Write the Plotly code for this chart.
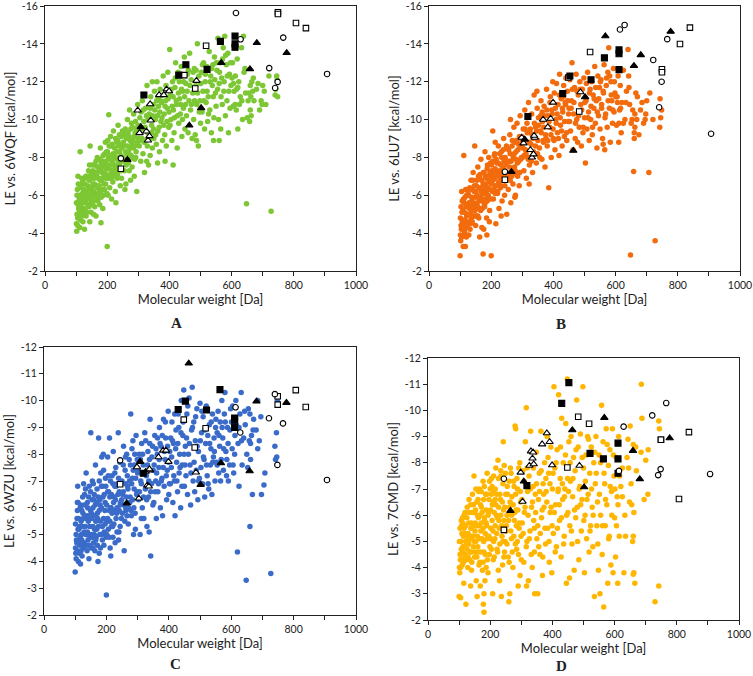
import plotly.graph_objects as go

# ---------------- data: colored compound clouds (MW [Da], LE [kcal/mol]) ----------------
A_points = [
(102,-4.1),(105,-4.8),(108,-5.3),(110,-5.8),(104,-6.3),(106,-7.0),(112,-4.3),(115,-5.0),(118,-5.6),(120,-6.1),
(113,-8.3),(122,-4.6),(125,-5.3),(128,-6.6),(130,-5.9),(132,-4.9),(135,-6.2),(138,-5.5),(140,-7.3),(142,-6.8),
(145,-8.6),(147,-5.8),(150,-6.4),(148,-5.1),(127,-4.2),(118,-6.9),(136,-7.0),(144,-4.6),
(152,-7.6),(155,-6.0),(158,-6.9),(160,-5.4),(162,-7.2),(165,-6.5),(168,-8.0),(170,-5.7),(172,-7.5),(175,-6.2),
(178,-8.5),(180,-4.55),(182,-6.8),(185,-7.8),(188,-6.0),(190,-7.1),(192,-8.2),(195,-6.6),(198,-7.4),(200,-3.3),
(156,-5.0),(164,-4.9),(176,-5.5),(186,-5.3),(194,-8.8),(199,-6.1),(173,-6.9),(183,-7.2),
(202,-8.9),(205,-10.25),(205,-7.0),(208,-6.4),(210,-7.9),(212,-8.6),(215,-7.3),(218,-6.7),(220,-9.4),(222,-8.1),
(225,-7.6),(228,-5.6),(230,-8.8),(232,-6.9),(235,-9.7),(238,-7.5),(240,-8.3),(242,-6.5),(245,-9.1),(248,-7.9),
(214,-5.8),(226,-6.2),(236,-8.6),(246,-6.9),(203,-6.0),(219,-8.2),(233,-7.1),
(252,-8.8),(255,-7.3),(258,-9.5),(260,-6.6),(263,-8.2),(265,-10.0),(268,-7.7),(270,-9.1),(273,-8.5),(275,-6.8),
(278,-9.8),(280,-7.5),(283,-8.9),(285,-10.3),(288,-7.9),(290,-9.3),(293,-8.3),(295,-6.2),(298,-10.8),(300,-9.0),
(257,-6.3),(272,-10.5),(287,-7.0),
(303,-8.6),(305,-10.1),(308,-7.8),(310,-9.5),(313,-11.0),(315,-8.2),(318,-9.9),(320,-7.2),(323,-10.6),(325,-8.9),
(328,-11.8),(330,-9.3),(333,-7.6),(335,-10.3),(338,-8.1),(340,-11.2),(343,-9.7),(345,-8.5),(348,-10.8),(350,-9.0),
(327,-7.8),(345,-12.0),
(352,-11.5),(355,-10.0),(358,-8.7),(360,-12.0),(363,-9.4),(365,-10.7),(368,-8.3),(370,-11.6),(373,-9.9),(375,-10.9),
(378,-8.9),(380,-12.3),(383,-10.3),(385,-9.2),(388,-11.0),(390,-8.6),(393,-10.6),(395,-12.5),(398,-9.6),(401,-13.7),
(362,-7.7),(386,-7.8),
(403,-11.3),(405,-10.0),(408,-8.9),(410,-12.0),(413,-10.5),(415,-9.3),(418,-11.7),(420,-13.0),(423,-10.8),(425,-8.5),
(428,-12.5),(430,-9.8),(433,-11.1),(435,-10.3),(438,-12.8),(440,-9.1),(443,-11.5),(445,-10.6),(448,-13.3),(450,-9.5),
(412,-7.6),
(453,-11.9),(455,-10.2),(458,-12.4),(460,-9.3),(463,-11.0),(465,-13.5),(468,-10.5),(470,-12.1),(473,-9.0),(475,-11.4),
(478,-10.0),(480,-12.7),(483,-9.2),(485,-11.8),(488,-10.8),(490,-14.0),(493,-8.6),(495,-12.3),(498,-11.0),(500,-9.8),
(487,-8.9),
(503,-12.5),(505,-10.4),(508,-11.5),(510,-13.0),(513,-9.5),(515,-12.0),(518,-10.9),(520,-12.8),(523,-9.9),(525,-11.2),
(528,-13.6),(530,-10.5),(533,-12.3),(535,-9.3),(538,-11.8),(540,-12.9),(543,-10.1),(545,-13.3),(548,-11.4),(550,-10.7),
(542,-8.9),
(553,-12.6),(556,-14.3),(558,-10.0),(560,-11.9),(563,-13.0),(565,-9.5),(568,-12.2),(570,-10.8),(573,-13.8),(575,-11.5),
(578,-14.4),(580,-10.2),(583,-12.9),(585,-11.0),(588,-13.5),(590,-9.3),(593,-12.4),(595,-10.6),(598,-11.8),(560,-8.9),
(603,-13.0),(605,-10.7),(608,-11.5),(612,-12.3),(615,-10.5),(618,-13.2),(620,-9.5),(623,-12.0),(628,-11.2),(632,-13.8),
(635,-10.0),(638,-14.4),(640,-12.5),(645,-11.4),(648,-5.55),(650,-10.1),(620,-11.7),
(655,-11.4),(658,-9.9),(660,-11.8),(663,-10.2),(665,-12.0),(668,-11.5),(672,-11.0),(680,-11.6),(690,-10.5),(700,-11.8),
(705,-11.5),(710,-10.8),(720,-12.3),(727,-5.15),(740,-11.3),(745,-12.3),(748,-11.2),(742,-11.6),(746,-12.1),(698,-10.8),
]
A_core = [
(101,-4.5),(101,-5.6),(103,-5.0),(103,-6.0),(105,-4.4),(107,-5.5),(107,-6.6),(109,-4.9),(109,-6.0),(111,-5.2),
(111,-6.4),(114,-4.7),(114,-5.9),(116,-5.4),(116,-6.5),(119,-4.9),(119,-6.0),(121,-5.6),(121,-6.7),(123,-5.1),
(124,-6.3),(126,-5.7),(126,-6.9),(129,-5.2),(129,-6.2),(131,-5.6),(131,-7.0),(133,-6.0),(134,-5.1),(137,-6.5),
(137,-5.8),(139,-6.9),(139,-6.1),(141,-5.4),(141,-6.3),(143,-7.6),(146,-6.0),(146,-6.9),(149,-5.6),(149,-7.1),
(151,-6.2),(151,-6.9),(153,-5.5),(154,-6.6),(154,-7.3),(157,-6.2),(157,-5.7),(159,-6.6),(159,-7.6),(161,-6.0),
(161,-7.0),(163,-6.5),(164,-7.8),(166,-5.9),(166,-7.1),(169,-6.4),(169,-7.5),(171,-6.9),(171,-6.1),(174,-7.3),
(174,-6.5),(177,-6.8),(177,-7.9),(179,-6.2),(179,-7.3),(181,-7.7),(181,-5.9),(184,-6.9),(184,-6.3),(187,-7.5),
(187,-8.1),(189,-6.6),(191,-7.7),(191,-6.3),(193,-7.2),(196,-7.8),(196,-6.9),(198,-8.3),(199,-7.0),
(201,-7.6),(201,-8.3),(204,-6.9),(204,-8.0),(206,-7.4),(206,-8.6),(209,-7.1),(209,-8.1),(211,-7.6),(211,-9.1),
(213,-6.9),(213,-8.0),(216,-7.7),(216,-8.7),(218,-7.2),(221,-7.9),(221,-7.0),(223,-8.5),(224,-7.4),(227,-8.0),
(227,-9.0),(229,-7.5),(231,-8.3),(231,-7.2),(234,-8.0),(234,-8.9),(237,-7.8),(239,-9.2),(241,-7.7),(241,-8.7),
(244,-8.1),(244,-7.3),(247,-8.5),(249,-9.4),(251,-8.0),(254,-8.6),(254,-7.8),(256,-9.2),(259,-8.3),(261,-7.6),
(261,-9.0),(264,-8.6),(266,-7.9),(267,-9.3),(269,-8.3),(271,-7.3),(274,-8.9),(276,-9.5),(277,-8.1),(279,-8.7),
(281,-9.6),(282,-8.0),(284,-8.5),(286,-9.1),(289,-8.6),(291,-9.9),(292,-8.0),(294,-9.5),(297,-8.8),(299,-9.7),
(302,-9.3),(306,-8.9),(309,-10.4),(312,-9.0),(316,-10.5),(319,-8.8),(322,-9.6),(326,-10.2),(329,-8.6),(332,-10.0),
(336,-9.0),(339,-10.6),(342,-9.3),(346,-10.2),(349,-9.5),(353,-10.5),(356,-9.2),(359,-11.0),(361,-10.2),(364,-11.2),
(367,-9.6),(369,-10.4),(372,-11.0),(376,-10.1),(379,-11.3),(382,-9.7),(386,-10.7),(389,-11.8),(392,-9.9),(396,-11.1),
(399,-10.4),(402,-9.7),(406,-11.6),(409,-10.7),(412,-11.2),(416,-10.1),(419,-12.2),(422,-11.0),(426,-10.2),(429,-11.4),
(432,-12.0),(436,-10.8),(439,-11.6),(442,-10.0),(446,-12.0),(449,-11.2),
(452,-10.8),(457,-11.5),(461,-12.6),(466,-11.8),(471,-10.8),(476,-12.5),(481,-11.0),(486,-12.6),(491,-11.4),(496,-10.4),
(501,-11.9),(506,-12.9),(511,-11.0),(516,-12.4),(521,-11.5),(526,-10.3),(531,-12.0),(536,-12.7),(541,-11.2),(546,-12.1),
(551,-13.0),(555,-11.6),(561,-12.5),(566,-11.2),(571,-13.2),(576,-12.0),(581,-13.4),(586,-12.3),(591,-11.5),(596,-13.0),
(601,-12.2),(606,-11.9),(611,-10.8),(616,-11.6),
(625,-10.8),(633,-11.0),(643,-12.7),(653,-11.0),(662,-11.2),(670,-12.2),(685,-11.9),(695,-11.0),(660,-10.5),
]

B_points = [
(100,-2.8),(102,-3.6),(104,-4.2),(106,-5.1),(108,-4.7),(110,-3.3),(112,-8.1),(113,-5.6),(115,-4.0),(118,-6.3),
(120,-3.8),(122,-5.0),(125,-4.5),(127,-6.0),(130,-5.3),(132,-4.2),(135,-6.8),(138,-5.7),(140,-4.9),(142,-7.2),
(145,-6.2),(147,-8.6),(148,-5.2),(150,-4.4),(105,-6.2),(117,-3.3),(128,-3.9),(136,-4.8),(143,-5.5),
(152,-6.5),(155,-5.6),(157,-7.5),(160,-4.8),(162,-6.9),(165,-5.9),(167,-7.9),(170,-4.3),(172,-6.3),(174,-2.9),
(175,-7.2),(178,-5.5),(180,-8.3),(182,-6.6),(185,-4.8),(188,-7.6),(190,-6.0),(192,-8.0),(195,-5.2),(198,-6.9),
(200,-2.8),(163,-3.8),(176,-4.2),(186,-3.9),(194,-4.6),(168,-6.2),(183,-5.8),
(202,-7.3),(205,-9.4),(207,-5.8),(210,-8.1),(212,-6.5),(215,-4.5),(218,-7.7),(220,-6.1),(223,-8.6),(225,-5.3),
(228,-7.0),(230,-6.4),(233,-8.3),(235,-5.7),(238,-7.4),(240,-9.0),(243,-6.0),(245,-8.0),(248,-6.8),(250,-5.0),
(213,-8.8),(232,-4.9),(246,-7.1),
(252,-8.5),(255,-6.3),(258,-7.8),(260,-9.2),(263,-5.6),(265,-7.2),(268,-8.9),(270,-6.6),(273,-9.6),(275,-7.5),
(278,-6.0),(280,-8.3),(283,-9.8),(285,-7.0),(288,-8.7),(290,-6.5),(293,-10.2),(295,-7.9),(298,-9.1),(300,-8.0),
(262,-10.0),(276,-5.9),
(303,-9.5),(305,-7.3),(308,-10.5),(310,-8.4),(313,-6.9),(315,-9.8),(318,-8.0),(320,-10.9),(323,-7.6),(325,-9.3),
(328,-8.7),(330,-10.3),(333,-7.2),(335,-9.0),(338,-11.3),(340,-8.2),(343,-9.6),(345,-7.7),(348,-10.6),(350,-8.9),
(322,-6.6),(347,-11.5),
(352,-10.1),(355,-8.5),(358,-9.4),(360,-11.0),(363,-7.9),(365,-9.9),(368,-8.8),(370,-10.7),(373,-7.5),(375,-9.2),
(378,-11.6),(380,-8.6),(383,-10.2),(385,-6.4),(388,-9.6),(390,-11.2),(393,-8.0),(395,-10.5),(398,-12.0),(400,-9.0),
(403,-11.4),(405,-8.4),(408,-10.0),(410,-11.9),(413,-9.3),(415,-10.8),(418,-8.1),(420,-12.4),(423,-9.7),(425,-11.1),
(428,-8.6),(430,-10.4),(433,-11.8),(435,-9.1),(438,-10.9),(440,-12.2),(443,-8.9),(445,-11.5),(448,-9.9),(450,-10.6),
(453,-12.1),(455,-9.4),(458,-11.0),(460,-13.0),(463,-8.4),(465,-10.3),(468,-11.7),(470,-9.0),(473,-12.4),(475,-10.0),
(478,-8.8),(480,-11.3),(483,-9.6),(485,-12.0),(488,-10.8),(490,-8.6),(493,-11.6),(495,-9.3),(498,-12.2),(500,-10.1),
(503,-7.7),(505,-11.0),(508,-9.5),(510,-12.5),(513,-10.4),(515,-8.9),(518,-11.6),(520,-10.0),(523,-12.0),(525,-9.2),
(528,-11.3),(530,-10.6),(533,-12.8),(535,-9.8),(538,-11.0),(540,-8.5),(543,-12.3),(545,-10.2),(548,-11.7),(550,-9.5),
(553,-12.1),(555,-10.8),(558,-9.0),(560,-11.5),(563,-12.9),(565,-8.4),(568,-10.3),(570,-11.8),(573,-9.6),(575,-12.5),
(578,-13.8),(580,-10.6),(583,-8.8),(585,-12.0),(588,-11.0),(590,-9.8),(593,-12.7),(595,-10.4),(598,-11.4),(560,-8.7),
(603,-9.7),(605,-11.2),(608,-12.3),(610,-8.8),(613,-10.5),(615,-11.8),(618,-9.3),(620,-10.9),(625,-12.6),(630,-10.0),
(635,-11.5),(640,-13.7),(642,-12.3),(645,-10.8),(648,-2.85),(650,-9.8),
(655,-10.5),(658,-7.25),(660,-9.3),(662,-9.6),(665,-11.4),(668,-10.0),(675,-9.2),(680,-10.5),(690,-9.8),(697,-10.3),
(700,-11.0),(707,-7.2),(710,-11.4),(720,-10.0),(727,-3.6),(742,-9.6),(745,-10.1),(743,-11.1),(748,-10.5),
]
B_core = [
(101,-3.9),(101,-4.8),(103,-4.4),(103,-5.4),(105,-3.8),(107,-4.6),(107,-5.7),(109,-4.2),(109,-5.2),(111,-4.5),
(111,-5.8),(114,-4.1),(114,-5.1),(116,-4.7),(116,-5.9),(119,-4.3),(119,-5.4),(121,-4.9),(121,-6.0),(123,-4.4),
(124,-5.5),(126,-5.0),(126,-6.2),(129,-4.6),(129,-5.6),(131,-5.0),(131,-6.4),(133,-5.4),(134,-4.5),(137,-5.9),
(137,-5.2),(139,-6.3),(139,-4.6),(141,-5.6),(141,-6.8),(143,-4.9),(146,-5.4),(146,-6.5),(149,-5.9),(149,-4.9),
(151,-5.5),(151,-6.2),(153,-4.9),(154,-6.0),(154,-6.8),(157,-5.4),(157,-4.9),(159,-5.9),(159,-7.0),(161,-5.3),
(161,-6.4),(163,-5.8),(164,-7.1),(166,-5.2),(166,-6.4),(169,-5.7),(169,-6.8),(171,-6.1),(171,-5.3),(174,-6.6),
(174,-5.8),(177,-6.1),(177,-7.2),(179,-5.4),(179,-6.5),(181,-7.0),(181,-5.6),(184,-6.2),(184,-6.9),(187,-5.7),
(187,-7.4),(189,-6.4),(191,-7.0),(191,-5.9),(193,-6.7),(196,-7.2),(196,-6.3),(198,-7.7),(199,-5.8),
(201,-6.6),(201,-7.6),(204,-6.2),(204,-7.1),(206,-6.8),(206,-7.8),(209,-6.3),(209,-7.3),(211,-6.9),(211,-8.2),
(213,-6.1),(213,-7.4),(216,-7.0),(216,-7.9),(218,-6.5),(221,-7.2),(221,-6.2),(223,-7.7),(224,-6.7),(227,-7.3),
(227,-8.2),(229,-6.8),(231,-7.6),(231,-6.5),(234,-7.2),(234,-8.0),(237,-7.0),(239,-8.4),(241,-6.9),(241,-7.8),
(244,-7.3),(244,-6.5),(247,-7.6),(249,-8.6),(251,-7.2),(254,-7.8),(254,-7.0),(256,-8.4),(259,-7.5),(261,-6.8),
(261,-8.2),(264,-7.8),(266,-7.0),(267,-8.6),(269,-7.4),(271,-8.0),(274,-8.2),(276,-8.8),(277,-7.3),(279,-7.9),
(281,-8.9),(282,-7.1),(284,-7.7),(286,-8.4),(289,-7.8),(291,-9.1),(292,-7.2),(294,-8.6),(297,-8.0),(299,-8.9),
(302,-8.5),(306,-8.1),(309,-9.5),(312,-8.2),(316,-9.3),(319,-7.9),(322,-8.8),(326,-9.5),(329,-7.8),(332,-9.2),
(336,-8.3),(339,-9.8),(342,-8.6),(346,-9.4),(349,-8.2),(353,-9.7),(356,-8.0),(359,-10.2),(361,-9.3),(364,-10.4),
(367,-8.9),(369,-9.6),(372,-10.2),(376,-9.0),(379,-10.5),(382,-8.9),(386,-9.9),(389,-10.9),(392,-9.2),(396,-10.3),
(399,-9.5),(402,-8.9),(406,-10.6),(409,-9.8),(412,-10.3),(416,-9.0),(419,-11.3),(422,-10.1),(426,-9.4),(429,-10.6),
(432,-11.2),(436,-9.9),(439,-10.8),(442,-9.3),(446,-11.0),(449,-10.3),
(452,-9.9),(457,-10.6),(461,-11.6),(466,-10.9),(471,-9.8),(476,-11.5),(481,-10.2),(486,-11.6),(491,-10.5),(496,-9.6),
(501,-10.9),(506,-11.9),(511,-10.1),(516,-11.4),(521,-10.7),(526,-9.6),(531,-11.1),(536,-11.7),(541,-10.4),(546,-11.1),
(551,-12.0),(555,-10.6),(561,-11.4),(566,-10.1),(571,-12.2),(576,-11.0),(581,-12.3),(586,-11.3),(591,-10.5),(596,-12.0),
(601,-11.2),(606,-10.9),(611,-9.8),(616,-10.6),
(625,-9.8),(633,-10.9),(643,-11.7),(653,-10.0),(662,-10.3),(670,-11.2),(685,-10.9),(695,-10.0),(660,-9.0),
]

C_points = [
(100,-3.6),(102,-4.3),(104,-4.8),(106,-5.6),(108,-6.8),(110,-4.0),(112,-5.2),(115,-4.6),(118,-6.1),(120,-5.0),
(122,-4.2),(125,-5.8),(128,-4.7),(130,-6.5),(132,-5.3),(135,-7.3),(138,-4.4),(140,-6.0),(142,-5.5),(145,-6.8),
(148,-4.9),(150,-8.8),(107,-6.2),(117,-3.9),(127,-6.9),(137,-5.0),(144,-4.1),
(152,-5.8),(155,-7.0),(157,-4.5),(160,-6.3),(162,-5.2),(165,-7.6),(167,-4.9),(170,-6.7),(172,-5.6),(175,-8.6),
(177,-4.3),(180,-6.1),(182,-7.3),(185,-5.0),(187,-6.8),(190,-8.0),(192,-4.6),(195,-5.9),(197,-7.1),(200,-2.75),
(158,-6.9),(173,-4.0),(185,-7.9),(193,-6.5),(163,-5.7),
(202,-5.5),(204,-7.9),(207,-6.6),(210,-8.6),(212,-4.5),(215,-6.0),(218,-7.2),(220,-5.3),(222,-8.1),(225,-6.4),
(228,-4.7),(230,-7.5),(233,-5.8),(235,-6.9),(238,-8.8),(240,-5.1),(243,-7.7),(245,-6.2),(248,-5.6),(250,-7.0),
(214,-4.2),(227,-6.8),(239,-4.8),
(252,-6.5),(255,-8.3),(257,-4.4),(260,-7.4),(263,-5.9),(265,-8.0),(268,-6.8),(270,-5.4),(273,-7.8),(275,-6.2),
(278,-9.5),(280,-5.7),(283,-7.1),(285,-8.5),(288,-6.0),(290,-7.6),(293,-5.2),(295,-8.7),(298,-6.6),(300,-7.3),
(262,-6.0),(287,-5.0),
(303,-6.3),(305,-8.0),(308,-5.0),(310,-7.0),(313,-8.4),(315,-6.0),(318,-7.6),(320,-5.6),(323,-8.8),(325,-6.7),
(328,-7.2),(330,-5.3),(333,-8.1),(335,-6.4),(338,-7.8),(340,-9.3),(342,-4.2),(345,-6.9),(348,-8.3),(350,-7.4),
(312,-5.6),(337,-5.1),
(352,-6.2),(355,-8.7),(358,-7.0),(360,-5.6),(363,-8.0),(365,-6.6),(368,-7.5),(370,-9.0),(373,-6.0),(375,-8.3),
(378,-7.1),(380,-5.7),(383,-9.3),(385,-6.8),(388,-7.8),(390,-8.6),(393,-6.3),(395,-7.4),(398,-9.6),(400,-6.5),
(403,-8.1),(405,-6.9),(408,-7.5),(410,-9.2),(413,-6.2),(415,-8.4),(418,-7.0),(420,-5.7),(423,-8.9),(425,-7.7),
(428,-6.6),(430,-9.5),(433,-7.3),(435,-8.0),(438,-6.0),(440,-10.0),(443,-7.6),(445,-8.7),(448,-10.4),(450,-6.8),
(453,-8.3),(455,-7.2),(458,-9.5),(460,-6.5),(463,-8.0),(465,-10.1),(468,-7.6),(470,-6.1),(473,-8.9),(475,-10.5),
(478,-7.0),(480,-9.2),(483,-6.6),(485,-8.5),(488,-7.4),(490,-9.7),(493,-6.3),(495,-8.1),(498,-7.1),(500,-9.9),
(503,-7.5),(505,-8.8),(508,-6.9),(510,-9.4),(513,-7.8),(515,-6.4),(518,-8.4),(520,-9.8),(523,-7.2),(525,-8.7),
(528,-6.7),(530,-9.1),(533,-7.6),(535,-8.2),(538,-6.5),(540,-9.5),(543,-7.9),(545,-8.6),(548,-7.0),(550,-9.0),
(553,-7.7),(555,-8.8),(558,-9.6),(560,-7.3),(563,-8.3),(565,-9.2),(568,-7.8),(570,-10.0),(573,-8.6),(575,-7.4),
(578,-9.5),(580,-10.3),(583,-8.1),(585,-7.2),(588,-9.0),(590,-8.4),(595,-7.6),(598,-9.7),
(603,-8.2),(605,-9.8),(608,-7.3),(612,-8.7),(615,-10.0),(620,-4.35),(622,-8.4),(625,-6.8),(628,-9.5),(632,-10.3),
(635,-7.6),(640,-8.6),(645,-9.1),(648,-3.3),(650,-8.0),
(655,-9.7),(658,-8.5),(660,-5.3),(662,-7.8),(665,-8.7),(668,-6.5),(672,-9.3),(680,-8.9),(685,-10.0),(690,-8.5),
(697,-6.5),(705,-6.85),(708,-7.3),(727,-3.55),(740,-8.3),(742,-7.8),(745,-8.8),(746,-7.9),(748,-10.0),
]
C_core = [
(101,-4.5),(101,-5.4),(103,-4.1),(103,-5.0),(105,-4.7),(107,-5.9),(107,-4.4),(109,-5.2),(109,-6.2),(111,-4.7),
(111,-5.6),(114,-4.3),(114,-5.3),(116,-4.9),(116,-6.0),(119,-4.4),(119,-5.5),(121,-5.9),(121,-4.8),(123,-5.3),
(124,-6.4),(126,-4.5),(126,-5.6),(129,-5.1),(129,-6.1),(131,-4.6),(131,-5.7),(133,-6.7),(134,-5.0),(137,-5.6),
(137,-4.6),(139,-6.2),(139,-5.1),(141,-5.7),(141,-4.8),(143,-6.4),(146,-5.3),(146,-4.6),(149,-5.9),(149,-6.6),
(151,-5.0),(151,-4.5),(153,-5.6),(154,-6.3),(154,-4.9),(157,-5.3),(157,-6.0),(159,-4.7),(159,-5.7),(161,-6.5),
(161,-5.0),(163,-4.4),(164,-6.1),(166,-5.5),(166,-4.8),(169,-6.2),(169,-5.2),(171,-5.8),(171,-4.6),(174,-6.4),
(174,-5.3),(177,-5.9),(177,-7.0),(179,-5.0),(179,-6.3),(181,-5.5),(181,-4.5),(184,-6.0),(184,-6.8),(187,-5.3),
(187,-4.8),(189,-6.4),(191,-5.6),(191,-7.4),(193,-5.1),(196,-6.2),(196,-5.4),(198,-6.8),(199,-4.9),
(201,-6.1),(201,-5.0),(204,-5.6),(204,-6.6),(206,-5.2),(206,-7.2),(209,-5.9),(209,-4.9),(211,-6.4),(211,-5.5),
(213,-7.0),(213,-6.0),(216,-5.3),(216,-6.5),(218,-5.8),(221,-6.9),(221,-4.9),(223,-6.2),(224,-5.4),(227,-5.9),
(227,-7.3),(229,-6.3),(231,-5.6),(231,-6.8),(234,-6.0),(234,-5.1),(237,-6.5),(239,-7.1),(241,-5.9),(241,-6.6),
(244,-6.1),(244,-5.3),(247,-6.9),(249,-6.3),(251,-5.8),(254,-6.6),(254,-7.6),(256,-6.1),(259,-5.5),(261,-6.9),
(261,-7.9),(264,-6.4),(266,-5.7),(267,-7.2),(269,-6.7),(271,-6.0),(274,-7.0),(276,-6.4),(277,-7.6),(279,-5.9),
(281,-6.9),(282,-8.2),(284,-6.3),(286,-7.4),(289,-6.7),(291,-8.0),(292,-5.8),(294,-7.1),(297,-6.5),(299,-7.8),
(302,-7.4),(306,-6.6),(309,-7.8),(312,-6.9),(316,-8.0),(319,-6.4),(322,-7.3),(326,-8.5),(329,-6.3),(332,-7.6),
(336,-7.0),(339,-8.4),(342,-6.6),(346,-7.9),(349,-6.1),(353,-7.6),(356,-6.6),(359,-8.2),(361,-7.3),(364,-8.6),
(367,-6.9),(369,-7.8),(372,-8.4),(376,-7.0),(379,-8.7),(382,-7.5),(386,-8.1),(389,-9.2),(392,-7.2),(396,-8.3),
(399,-7.7),(402,-6.9),(406,-8.6),(409,-7.9),(412,-8.5),(416,-7.2),(419,-9.5),(422,-8.2),(426,-7.0),(429,-8.4),
(432,-9.0),(436,-7.5),(439,-8.8),(442,-6.8),(446,-9.2),(449,-8.0),
(452,-7.6),(457,-8.6),(461,-9.8),(466,-8.4),(471,-7.3),(476,-9.0),(481,-7.7),(486,-9.4),(491,-8.3),(496,-7.0),
(501,-8.5),(506,-9.6),(511,-7.9),(516,-8.9),(521,-7.6),(526,-6.9),(531,-8.4),(536,-9.2),(541,-7.7),(546,-8.1),
(551,-9.3),(555,-7.6),(561,-8.7),(566,-7.0),(571,-9.0),(576,-8.2),(581,-9.2),(586,-7.8),(591,-7.0),(596,-8.9),
(601,-9.2),(606,-7.6),(611,-8.0),(616,-9.1),
(625,-9.0),(633,-8.5),(643,-9.6),(653,-7.5),(662,-8.4),(670,-8.9),(685,-8.2),(695,-9.4),(660,-9.5),
]

D_points = [
(100,-2.9),(102,-3.8),(104,-4.3),(106,-5.0),(108,-5.6),(110,-4.1),(112,-4.8),(115,-3.4),(118,-5.3),(120,-4.5),
(122,-2.6),(125,-5.9),(128,-4.0),(130,-5.0),(132,-6.6),(135,-4.6),(138,-5.5),(140,-3.9),(142,-6.1),(145,-5.2),
(148,-7.5),(150,-4.4),(105,-2.85),(116,-6.0),(127,-4.9),(137,-3.3),(146,-6.4),(112,-5.7),
(152,-5.7),(155,-3.5),(157,-6.5),(160,-4.8),(162,-5.9),(165,-7.0),(167,-4.2),(170,-5.4),(172,-6.3),(175,-3.9),
(177,-7.3),(180,-2.3),(180,-4.6),(182,-5.8),(185,-6.8),(187,-4.0),(190,-7.6),(192,-5.2),(195,-6.1),(197,-4.5),
(200,-7.0),(158,-2.9),(168,-3.3),(180,-3.0),(183,-3.5),(178,-2.6),(193,-3.8),(163,-6.9),(189,-5.6),
(202,-5.5),(204,-7.4),(207,-6.4),(210,-4.3),(212,-6.9),(215,-5.1),(218,-7.8),(220,-6.0),(222,-4.7),(225,-8.1),
(228,-5.8),(230,-3.5),(233,-6.6),(235,-7.5),(238,-5.2),(240,-4.1),(243,-6.2),(245,-7.9),(248,-5.0),(250,-6.8),
(208,-3.0),(226,-3.9),(236,-2.9),(242,-8.8),(216,-6.6),(246,-4.6),
(252,-5.6),(255,-7.1),(258,-4.4),(260,-2.7),(262,-6.3),(265,-7.8),(268,-5.1),(270,-6.7),(273,-4.0),(275,-7.3),
(278,-5.8),(280,-9.4),(283,-6.2),(285,-4.7),(288,-7.0),(290,-3.3),(293,-5.5),(295,-8.0),(298,-6.5),(300,-4.3),
(282,-9.3),(263,-3.0),(287,-5.0),(296,-3.7),
(303,-5.7),(305,-7.7),(308,-4.2),(310,-6.1),(313,-8.8),(316,-10.1),(318,-5.0),(320,-6.9),(323,-3.5),(325,-7.5),
(328,-5.4),(330,-9.2),(333,-6.3),(335,-4.0),(338,-7.1),(340,-5.8),(343,-3.0),(345,-6.8),(348,-8.4),(350,-5.1),
(317,-3.3),(342,-4.6),
(353,-3.0),(355,-6.6),(358,-7.6),(360,-4.5),(363,-9.2),(365,-5.9),(368,-3.7),(370,-7.2),(373,-6.3),(375,-8.0),
(378,-4.9),(380,-6.9),(383,-9.0),(385,-5.5),(388,-7.6),(390,-4.2),(393,-6.1),(395,-8.6),(398,-3.8),(400,-7.0),
(403,-5.3),(405,-10.9),(408,-7.8),(410,-6.4),(413,-4.8),(415,-8.5),(418,-6.9),(420,-10.6),(423,-5.8),(425,-7.4),
(428,-4.4),(430,-9.7),(433,-6.6),(435,-8.0),(438,-5.2),(440,-7.0),(443,-9.5),(445,-3.4),(448,-11.2),(450,-6.1),
(455,-3.6),
(453,-8.8),(456,-5.6),(458,-7.3),(460,-9.0),(463,-4.9),(465,-6.7),(468,-8.2),(470,-3.9),(473,-7.7),(475,-5.9),
(478,-10.4),(480,-6.3),(483,-8.6),(485,-4.3),(488,-7.1),(490,-9.1),(493,-5.4),(495,-6.6),(498,-10.9),(500,-7.8),
(503,-3.8),(505,-6.0),(508,-8.3),(510,-5.1),(513,-9.0),(515,-6.8),(518,-4.6),(520,-7.6),(523,-5.6),(525,-8.6),
(528,-6.3),(530,-4.8),(533,-8.0),(535,-2.9),(538,-7.2),(540,-9.0),(543,-5.6),(545,-6.5),(548,-3.9),(550,-8.3),
(553,-3.0),(555,-6.0),(558,-10.2),(560,-4.5),(563,-8.8),(565,-2.5),(568,-7.2),(570,-5.6),(573,-9.3),(575,-6.4),
(578,-3.4),(580,-7.9),(583,-5.2),(585,-8.5),(588,-4.1),(590,-6.9),(593,-9.3),(595,-3.8),(598,-7.5),(600,-5.9),
(603,-4.4),(605,-8.2),(608,-6.7),(610,-3.4),(613,-9.0),(615,-5.2),(620,-7.1),(625,-6.7),(630,-3.8),(635,-5.2),
(640,-8.2),(645,-7.8),(650,-9.4),(648,-6.5),
(655,-6.4),(658,-5.0),(660,-8.7),(662,-3.8),(665,-3.4),(668,-8.6),(686,-11.0),(688,-9.7),(700,-8.1),(708,-8.5),
(707,-6.8),(742,-9.6),(744,-9.3),(742,-3.3),(730,-2.7),(660,-3.75),
]
D_core = [
(101,-4.0),(101,-5.0),(103,-4.5),(103,-5.5),(105,-4.0),(107,-4.7),(107,-5.8),(109,-4.3),(109,-5.3),(111,-4.6),
(111,-5.9),(114,-4.2),(114,-5.2),(116,-4.8),(116,-5.5),(119,-4.4),(119,-6.1),(121,-5.0),(121,-5.6),(123,-4.3),
(124,-5.2),(126,-4.7),(126,-6.3),(129,-5.3),(129,-4.4),(131,-5.7),(131,-4.9),(133,-6.1),(134,-4.3),(137,-5.1),
(137,-6.4),(139,-4.6),(139,-5.7),(141,-5.2),(141,-4.2),(143,-6.8),(146,-4.8),(146,-5.6),(149,-5.0),(149,-6.1),
(151,-5.4),(151,-4.6),(153,-6.2),(154,-5.0),(154,-7.0),(157,-5.6),(157,-4.4),(159,-6.0),(159,-5.2),(161,-6.6),
(161,-4.6),(163,-5.6),(164,-4.1),(166,-6.0),(166,-5.1),(169,-6.4),(169,-4.6),(171,-5.7),(171,-6.9),(174,-5.1),
(174,-6.1),(177,-5.5),(177,-4.2),(179,-6.6),(179,-5.0),(181,-5.9),(181,-7.1),(184,-5.3),(184,-4.5),(187,-6.2),
(187,-5.7),(189,-6.8),(191,-5.1),(191,-4.3),(193,-6.0),(196,-6.6),(196,-5.2),(198,-7.3),(199,-4.8),
(201,-6.2),(201,-5.1),(204,-6.8),(204,-4.7),(206,-5.8),(206,-7.1),(209,-5.4),(209,-6.5),(211,-5.0),(211,-7.5),
(213,-6.1),(213,-4.4),(216,-5.6),(216,-7.0),(218,-6.4),(221,-5.3),(221,-6.8),(223,-5.9),(224,-4.6),(227,-6.3),
(227,-7.4),(229,-5.5),(231,-6.8),(231,-4.9),(234,-6.0),(234,-7.7),(237,-5.6),(239,-6.5),(241,-5.0),(241,-7.2),
(244,-5.8),(244,-4.4),(247,-6.3),(249,-7.6),(251,-5.4),(254,-6.0),(254,-4.9),(256,-6.8),(259,-5.8),(261,-7.3),
(261,-4.2),(264,-6.5),(266,-5.4),(267,-7.6),(269,-6.0),(271,-4.6),(274,-6.4),(276,-5.2),(277,-7.1),(279,-6.1),
(281,-4.9),(282,-6.8),(284,-5.6),(286,-7.4),(289,-6.2),(291,-4.5),(292,-7.8),(294,-5.7),(297,-6.9),(299,-5.2),
(302,-6.6),(306,-5.3),(309,-7.3),(312,-6.3),(316,-4.8),(319,-7.8),(322,-6.0),(326,-5.1),(329,-7.0),(332,-4.5),
(336,-6.5),(339,-7.8),(342,-5.5),(346,-6.1),(349,-7.2),(353,-5.6),(356,-4.8),(359,-6.9),(361,-5.3),(364,-7.7),
(367,-6.2),(369,-4.4),(372,-6.8),(376,-5.5),(379,-7.4),(382,-6.5),(386,-8.2),(389,-5.0),(392,-7.2),(396,-6.3),
(399,-5.6),(402,-7.6),(406,-6.1),(409,-4.6),(412,-8.0),(416,-5.5),(419,-7.0),(422,-6.4),(426,-8.6),(429,-5.9),
(432,-7.2),(436,-4.9),(439,-6.7),(442,-8.3),(446,-6.0),(449,-7.4),
(452,-6.9),(457,-8.0),(461,-5.4),(466,-7.4),(471,-6.2),(476,-8.5),(481,-5.0),(486,-7.0),(491,-6.4),(496,-8.2),
(501,-5.8),(506,-7.3),(511,-6.6),(516,-8.9),(521,-5.4),(526,-7.0),(531,-6.0),(536,-8.4),(541,-7.6),(546,-4.9),
(551,-6.8),(555,-8.0),(561,-5.6),(566,-7.6),(571,-6.6),(576,-8.7),(581,-5.1),(586,-7.1),(591,-6.0),(596,-8.3),
(601,-7.0),(606,-5.6),(611,-6.4),(616,-7.5),
(625,-7.8),(633,-6.0),(643,-8.9),(653,-7.2),(662,-6.1),(670,-7.7),(685,-8.4),(695,-6.6),(660,-5.2),
]

# ---------------- data: highlighted compound groups (same MW in every panel) ----------------
oc_mw = [244, 614, 629, 721, 740, 748, 766, 907]            # open circles
os_mw = [244, 448, 483, 518, 749, 749, 807, 839]            # open squares
fs_mw = [318, 430, 453, 521, 564, 611, 611, 611]            # filled squares
ft_mw = [265, 308, 464, 502, 567, 659, 681, 777]            # filled triangles
ot_mw = [298, 304, 326, 331, 336, 340, 338, 367, 382, 391, 399, 487]  # open triangles

oc_le = {
    "A": [-7.95, -15.63, -14.24, -12.72, -11.67, -11.99, -14.33, -12.41],
    "B": [-7.24, -14.76, -15.0, -13.15, -10.65, -12.0, -14.25, -9.25],
    "C": [-7.77, -9.75, -8.81, -9.34, -10.24, -7.6, -9.15, -7.04],
    "D": [-7.39, -7.69, -9.38, -9.81, -7.53, -7.76, -10.28, -7.57],
}
os_le = {
    "A": [-7.4, -12.35, -11.64, -13.9, -15.67, -15.58, -15.1, -14.83],
    "B": [-6.82, -12.22, -10.43, -13.57, -12.66, -12.5, -13.99, -14.86],
    "C": [-6.88, -9.29, -8.25, -8.97, -9.85, -10.16, -10.39, -9.76],
    "D": [-5.44, -7.82, -9.76, -9.49, -8.88, -8.88, -6.62, -9.17],
}
fs_le = {
    "A": [-11.3, -12.35, -12.9, -12.65, -14.13, -14.41, -14.0, -13.82],
    "B": [-10.16, -11.37, -12.3, -12.1, -13.26, -13.68, -13.48, -12.64],
    "C": [-7.29, -9.67, -9.98, -9.65, -10.41, -9.35, -9.27, -9.0],
    "D": [-7.13, -10.27, -11.06, -8.36, -8.15, -8.75, -8.15, -7.6],
}
ft_le = {
    "A": [-7.88, -9.61, -9.69, -10.61, -13.0, -12.67, -14.05, -13.52],
    "B": [-7.24, -8.95, -8.36, -11.19, -14.41, -12.84, -13.41, -14.65],
    "C": [-6.17, -7.72, -11.39, -6.86, -7.67, -7.37, -9.97, -9.92],
    "D": [-6.17, -7.29, -9.25, -7.07, -9.72, -8.46, -7.38, -8.94],
}
ot_le = {
    "A": [-10.49, -9.29, -9.38, -8.9, -9.13, -9.96, -10.82, -11.3, -11.3, -11.6, -11.5, -12.05],
    "B": [-9.05, -8.75, -8.4, -8.0, -8.17, -9.05, -9.15, -10.0, -9.6, -10.05, -10.9, -11.45],
    "C": [-7.52, -6.35, -7.35, -6.84, -6.8, -7.4, -7.44, -7.89, -8.14, -8.14, -7.72, -7.32],
    "D": [-7.63, -6.52, -7.89, -8.44, -8.17, -7.95, -8.4, -8.71, -9.13, -8.8, -7.91, -7.89],
}

panels = ["A", "B", "C", "D"]
targets = ["6WQF", "6LU7", "6WZU", "7CMD"]
cloud_colors = ["#7CC733", "#F26B0C", "#3A6BC9", "#FFB600"]
clouds = {"A": A_points + A_core, "B": B_points + B_core,
          "C": C_points + C_core, "D": D_points + D_core}

x_ticks = [0, 200, 400, 600, 800, 1000]
y_ticks_AB = [-16, -14, -12, -10, -8, -6, -4, -2]
y_ticks_CD = [-12, -11, -10, -9, -8, -7, -6, -5, -4, -3, -2]

# ---------------- layout geometry (page pixels; body margin removed below) ----------------
W, H = 753, 676
boxes = {  # left, right, top, bottom
    "A": (45, 356, 6, 271),
    "B": (429, 740, 6, 271),
    "C": (44, 356, 347, 615),
    "D": (428, 739, 358, 620),
}

def px(v):
    return v / W

def py(v):
    return 1 - v / H

fig = go.Figure()
FONT = "Lato, 'Open Sans', sans-serif"
INK = "#222"

for i, p in enumerate(panels):
    n = "" if i == 0 else str(i + 1)
    xa, ya = "x" + n, "y" + n
    mw = [q[0] for q in clouds[p]]
    le = [q[1] for q in clouds[p]]
    fig.add_trace(go.Scatter(x=mw, y=le, mode="markers", xaxis=xa, yaxis=ya,
                             marker=dict(symbol="circle", size=5.5, color=cloud_colors[i], line=dict(width=0)),
                             showlegend=False, hoverinfo="skip"))
    groups = [
        (ot_mw, ot_le[p], "triangle-up", "white", 6.5),
        (ft_mw, ft_le[p], "triangle-up", "black", 6.5),
        (os_mw, os_le[p], "square", "white", 5.5),
        (fs_mw, fs_le[p], "square", "black", 6),
        (oc_mw, oc_le[p], "circle", "white", 5.5),
    ]
    for gx, gy, sym, fill, sz in groups:
        fig.add_trace(go.Scatter(x=gx, y=gy, mode="markers", xaxis=xa, yaxis=ya,
                                 marker=dict(symbol=sym, size=sz, color=fill,
                                             line=dict(color="black", width=1.1)),
                                 showlegend=False, hoverinfo="skip"))

    l, r, t, b = boxes[p]
    yt = y_ticks_AB if p in ("A", "B") else y_ticks_CD
    ax_common = dict(showline=True, linecolor=INK, linewidth=1, mirror=True, automargin=False,
                     showgrid=False, zeroline=False, ticks="outside", ticklen=4,
                     ticklabeloverflow="allow",
                     tickcolor=INK, tickfont=dict(family=FONT, size=10.5, color=INK))
    fig.layout["xaxis" + n] = dict(domain=[px(l), px(r)], anchor=ya, range=[0, 1000],
                                   tickvals=x_ticks, ticktext=[str(v) for v in x_ticks],
                                   minor=dict(tickvals=list(range(0, 1001, 100)), ticks="outside",
                                              ticklen=4, tickcolor=INK),
                                   title=dict(text="Molecular weight [Da]", standoff=4,
                                              font=dict(family=FONT, size=13, color=INK)),
                                   **ax_common)
    fig.layout["yaxis" + n] = dict(domain=[py(b), py(t)], anchor=xa,
                                   range=[yt[-1], yt[0]],
                                   tickvals=yt, ticktext=[str(v) for v in yt],
                                   title=dict(text="LE vs. %s [kcal/mol]" % targets[i], standoff=3,
                                              font=dict(family=FONT, size=13, color=INK)),
                                   **ax_common)

# panel letters (page pixels)
letter_pos = {"A": (176, 323), "B": (561, 324), "C": (175, 664), "D": (561, 666)}
for p in panels:
    x, y = letter_pos[p]
    fig.add_annotation(x=px(x), y=py(y), xref="paper", yref="paper", text="<b>%s</b>" % p,
                       showarrow=False, xanchor="center", yanchor="middle",
                       font=dict(family="'Liberation Serif', 'DejaVu Serif', serif", size=15, color=INK))

fig.update_layout(width=W, height=H, margin=dict(l=0, r=0, t=0, b=0),
                  paper_bgcolor="white", plot_bgcolor="white")
fig.write_html("out.html", config={"displayModeBar": False},
               post_script="document.body.style.margin='0';document.body.style.overflow='hidden';")
